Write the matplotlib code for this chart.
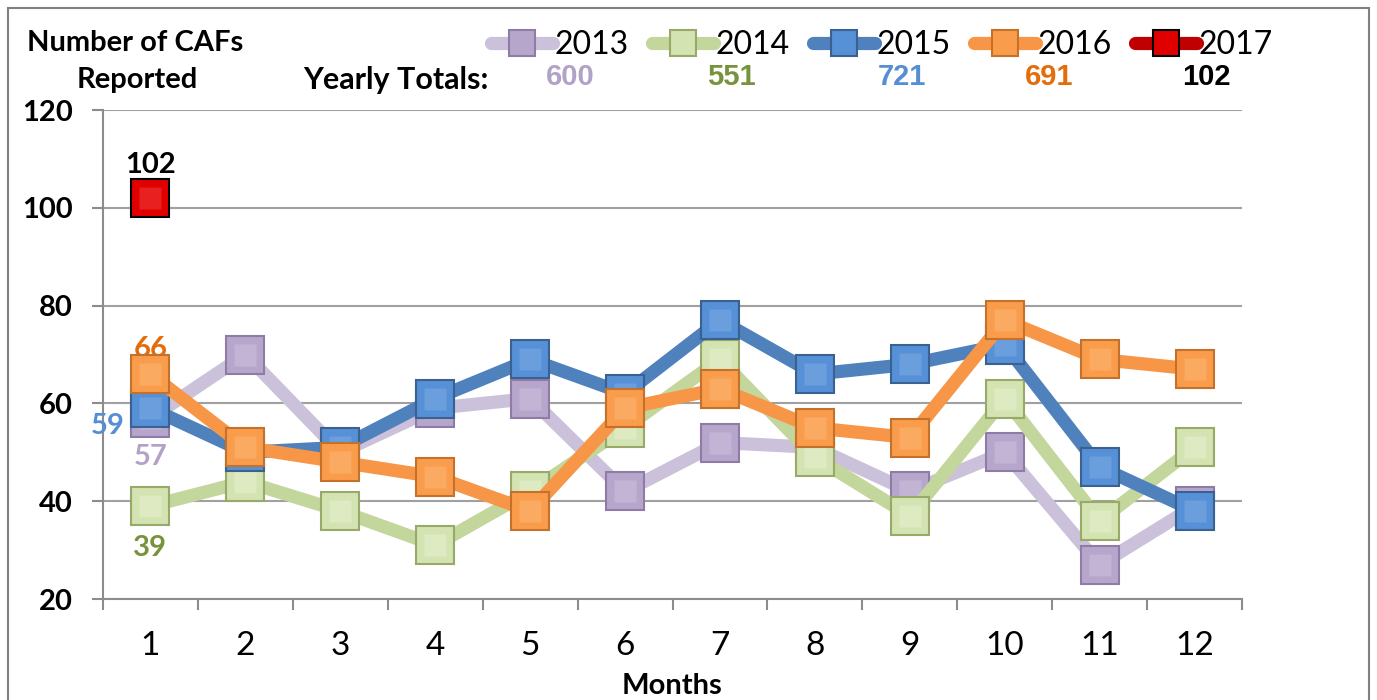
# Number of CAFs reported per month, 2013-2017

import matplotlib.pyplot as plt
from matplotlib.patches import Rectangle

# --- Data ---
months = list(range(1, 13))
cafs_2013 = [57, 70, 50, 59, 61, 42, 52, 51, 42, 50, 27, 39]
cafs_2014 = [39, 44, 38, 31, 42, 55, 69, 49, 37, 61, 36, 51]
cafs_2015 = [59, 50, 51, 61, 69, 62, 77, 66, 68, 72, 47, 38]
cafs_2016 = [66, 51, 48, 45, 38, 59, 63, 55, 53, 77, 69, 67]
cafs_2017 = [102]
years = ['2013', '2014', '2015', '2016', '2017']
totals = [600, 551, 721, 691, 102]

# --- Styles ---
line_cols = ['#CCC1DA', '#C3D69B', '#4F81BD', '#F79646', '#C00000']
face_cols = ['#B7A6CC', '#D3E3B1', '#5690D6', '#F99C4C', '#E00000']
inner_cols = ['#C3B4D6', '#DDEAC2', '#6A9EDD', '#FBAA62', '#E82020']
edge_cols = ['#8E7BA6', '#98A96A', '#3A6190', '#C4712C', '#000000']
text_cols = ['#B3A2C7', '#77933C', '#558ED5', '#E46C0A', '#000000']

plt.rcParams['font.family'] = ['Lato', 'DejaVu Sans']
W, H = 1377, 700
fig = plt.figure(figsize=(W / 100, H / 100), dpi=100)
ax = fig.add_axes([103 / W, 1 - 599 / H, (1242 - 103) / W, (599 - 110) / H])

series = [cafs_2013, cafs_2014, cafs_2015, cafs_2016, cafs_2017]
handles = []
for i, vals in enumerate(series):
    x = months[:len(vals)]
    h, = ax.plot(x, vals, color=line_cols[i], lw=9.5, solid_capstyle='round',
                 solid_joinstyle='round', marker='s', ms=27, mfc=face_cols[i],
                 mec=edge_cols[i], mew=1.5, label=years[i], zorder=3 + i)
    # lighter inner face for a bevel look
    ax.plot(x, vals, ls='none', marker='s', ms=16, mfc=inner_cols[i],
            mec='none', zorder=3 + i)
    handles.append(h)

# data labels for month 1
lbl = dict(fontsize=21, fontweight='bold', ha='center', va='center',
           textcoords='offset points')
ax.annotate(str(cafs_2016[0]), (1, cafs_2016[0]), xytext=(0, 18), color=text_cols[3], **lbl)
ax.annotate(str(cafs_2015[0]), (1, cafs_2015[0]), xytext=(-31, -13), color=text_cols[2], **lbl)
ax.annotate(str(cafs_2013[0]), (1, cafs_2013[0]), xytext=(0, -28), color=text_cols[0], **lbl)
ax.annotate(str(cafs_2014[0]), (1, cafs_2014[0]), xytext=(0, -30), color=text_cols[1], **lbl)
ax.annotate(str(cafs_2017[0]), (1, cafs_2017[0]), xytext=(0, 24), color=text_cols[4], **lbl)

# --- Axes ---
ax.set_xlim(0.5, 12.5)
ax.set_ylim(20, 120)
ax.set_yticks([20, 40, 60, 80, 100, 120])
ax.set_xticks(months)
ax.set_xticks([m + 0.5 for m in range(0, 13)], minor=True)
ax.tick_params(axis='x', which='major', length=0, labelsize=24, pad=23)
ax.tick_params(axis='x', which='minor', length=8, width=1.5, color='#8C8C8C', direction='out')
ax.tick_params(axis='y', length=8, width=1.5, color='#8C8C8C', labelsize=21, pad=14)
for t in ax.get_yticklabels():
    t.set_fontweight('bold')
ax.grid(axis='y', color='#A0A0A0', lw=1.5)
ax.set_axisbelow(True)
for s in ['top', 'right']:
    ax.spines[s].set_visible(False)
for s in ['left', 'bottom']:
    ax.spines[s].set_color('#8C8C8C')
    ax.spines[s].set_linewidth(1.5)
ax.set_xlabel('Months', fontsize=21, fontweight='bold', labelpad=9)

# --- Legend and header text ---
leg = fig.legend(handles=handles, loc='center', bbox_to_anchor=(882 / W, 1 - 45 / H),
                 ncol=5, frameon=False, fontsize=23, handlelength=1.95,
                 handletextpad=0.05, columnspacing=0.72, borderpad=0)
for h in leg.legend_handles:
    h.set_markersize(19)

fig.text(27 / W, 1 - 43 / H, 'Number of CAFs', fontsize=21, fontweight='bold',
         ha='left', va='center')
fig.text(137 / W, 1 - 80 / H, 'Reported', fontsize=21, fontweight='bold',
         ha='center', va='center')
fig.text(303 / W, 1 - 80 / H, 'Yearly Totals:', fontsize=22, fontweight='bold',
         ha='left', va='center')
for xp, tot, c in zip([570, 731, 902, 1049, 1206], totals, text_cols):
    fig.text(xp / W, 1 - 77 / H, str(tot), fontsize=21, fontweight='bold', color=c,
             ha='center', va='center', family=['Liberation Sans Narrow', 'Liberation Sans'])

# outer chart border
fig.patches.append(Rectangle((8 / W, -0.01), (1369 - 8) / W, 1 - 8 / H + 0.01,
                             transform=fig.transFigure, fill=False, ec='#808080', lw=1.5))

plt.savefig('out.png', dpi=100)
plt.close()
